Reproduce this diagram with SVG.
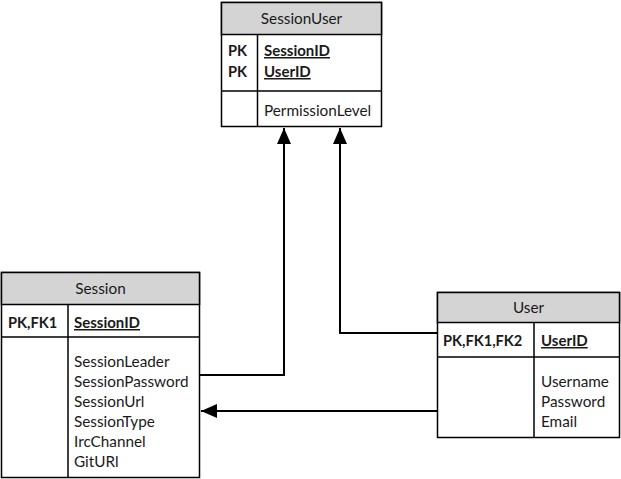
<svg xmlns="http://www.w3.org/2000/svg" width="621" height="479" viewBox="0 0 621 479">
<style>
.box{fill:#fff;stroke:#000;stroke-width:1.5}
.hdr{fill:#d4d4d4;stroke:#000;stroke-width:1.5}
.ln{stroke:#000;stroke-width:1.5;fill:none}
text{font-family:Lato,"Noto Sans",sans-serif;font-size:15.3px;fill:#1a1a1a}
.t{text-anchor:middle}
.b{font-weight:bold;font-size:14.6px}
.u{font-weight:bold;font-size:15px;text-decoration:underline}
.c{stroke:#000;stroke-width:2;fill:none}
</style>
<defs>
<marker id="arr" viewBox="0 0 16 14" refX="16" refY="7" markerWidth="16" markerHeight="14" markerUnits="userSpaceOnUse" orient="auto">
<path d="M0,0 L16,7 L0,14 Z" fill="#000"/>
</marker>
</defs>
<g id="connectors">
<polyline class="c" points="200,375 284,375 284,128" marker-end="url(#arr)"/>
<polyline class="c" points="437,333 340,333 340,128" marker-end="url(#arr)"/>
<line class="c" x1="437" y1="411" x2="201" y2="411" marker-end="url(#arr)"/>
</g>
<g id="SessionUser">
<rect class="box" x="221.5" y="2.5" width="160" height="124"/>
<rect class="hdr" x="221.5" y="2.5" width="160" height="32"/>
<line class="ln" x1="221.5" y1="91" x2="381.5" y2="91"/>
<line class="ln" x1="257.5" y1="34.5" x2="257.5" y2="126.5"/>
<text class="t" x="301.5" y="24">SessionUser</text>
<text class="b" x="228" y="56">PK</text>
<text class="b" x="228" y="77">PK</text>
<text class="u" x="264" y="56">SessionID</text>
<text class="u" x="264" y="77">UserID</text>
<text x="264" y="116">PermissionLevel</text>
</g>
<g id="Session">
<rect class="box" x="1.5" y="272.5" width="198" height="205"/>
<rect class="hdr" x="1.5" y="272.5" width="198" height="32"/>
<line class="ln" x1="1.5" y1="337" x2="199.5" y2="337"/>
<line class="ln" x1="68" y1="304.5" x2="68" y2="477.5"/>
<text class="t" x="100.5" y="294">Session</text>
<text class="b" x="8" y="328">PK,FK1</text>
<text class="u" x="74" y="328">SessionID</text>
<text x="74" y="367">SessionLeader</text>
<text x="74" y="387">SessionPassword</text>
<text x="74" y="407">SessionUrl</text>
<text x="74" y="427">SessionType</text>
<text x="74" y="447">IrcChannel</text>
<text x="74" y="467">GitURl</text>
</g>
<g id="User">
<rect class="box" x="437.5" y="292.5" width="182" height="145"/>
<rect class="hdr" x="437.5" y="292.5" width="182" height="30"/>
<line class="ln" x1="437.5" y1="357" x2="619.5" y2="357"/>
<line class="ln" x1="534" y1="322.5" x2="534" y2="437.5"/>
<text class="t" x="528.5" y="313">User</text>
<text class="b" x="443" y="346">PK,FK1,FK2</text>
<text class="u" x="541" y="346">UserID</text>
<text x="541" y="387">Username</text>
<text x="541" y="407">Password</text>
<text x="541" y="427">Email</text>
</g>
</svg>
